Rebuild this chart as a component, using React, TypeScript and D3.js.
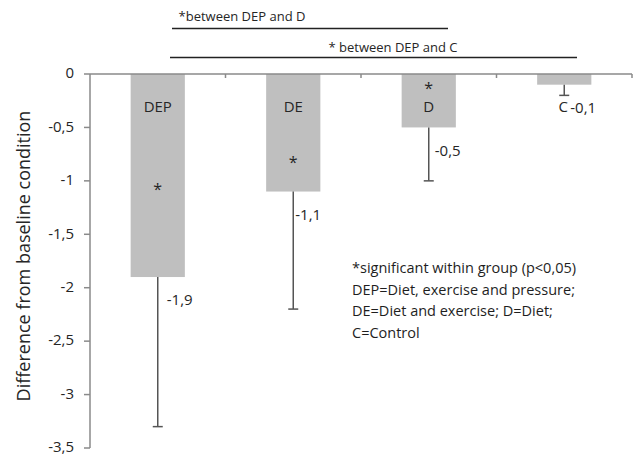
import * as d3 from "d3";

// chart data
const groups = ["DEP", "DE", "D", "C"];
const means = [-1.9, -1.1, -0.5, -0.1];
const errors = [1.4, 1.1, 0.5, 0.1];
const valueLabels = ["-1,9", "-1,1", "-0,5", "-0,1"];
const starLevels = [-1.05, -0.8, -0.1, null];
const yTicks = [0, -0.5, -1, -1.5, -2, -2.5, -3, -3.5];
const legendLines = [
  "*significant within group (p<0,05)",
  "DEP=Diet, exercise and pressure;",
  "DE=Diet and exercise; D=Diet;",
  "C=Control",
];

const W = 635;
const H = 455;
const FONT = "'Open Sans', Lato, sans-serif";
const AXIS = "#8a8a8a";
const ERR = "#555";
const TEXT = "#262626";
const labelDx = [9, 2, 6, 6];

export default function App() {
  const x = d3.scaleBand().domain(groups).range([90, 632]).paddingInner(0.6).paddingOuter(0.3);
  const y = d3.scaleLinear().domain([-3.5, 0]).range([448, 74]);
  const step = x.step();
  const fmt = (v: number) => String(v).replace(".", ",");
  const x0 = x.range()[0];

  return (
    <svg width={W} height={H} style={{ position: "absolute", left: 0, top: 0, background: "#fff" }} fontFamily={FONT}>
      {/* significance brackets */}
      <text x={242} y={16} dy="0.35em" fontSize={13} fill={TEXT} textAnchor="middle">*between DEP and D</text>
      <line x1={172} x2={448} y1={28.5} y2={28.5} stroke="#222" strokeWidth={1.5} />
      <text x={393} y={47} dy="0.35em" fontSize={13} fill={TEXT} textAnchor="middle">* between DEP and C</text>
      <line x1={170} x2={577} y1={57.5} y2={57.5} stroke="#222" strokeWidth={1.5} />

      {/* bars */}
      {groups.map((g, i) => (
        <rect key={g} x={x(g)} y={y(0)} width={x.bandwidth()} height={y(means[i]) - y(0)} fill="#bfbfbf" />
      ))}

      {/* error bars (minus only) */}
      {groups.map((g, i) => {
        const cx = (x(g) ?? 0) + x.bandwidth() / 2;
        const y1 = y(means[i]);
        const y2 = y(means[i] - errors[i]);
        return (
          <g key={g} stroke={ERR} strokeWidth={1.5}>
            <line x1={cx} x2={cx} y1={y1} y2={y2} />
            <line x1={cx - 5} x2={cx + 5} y1={y2} y2={y2} />
          </g>
        );
      })}

      {/* axes */}
      <line x1={x0} x2={x0} y1={y(0)} y2={y(-3.5)} stroke={AXIS} strokeWidth={1.5} />
      <line x1={x0} x2={x.range()[1]} y1={y(0)} y2={y(0)} stroke={AXIS} strokeWidth={1.5} />
      {groups.map((g, i) => (
        <line key={g} x1={x0 + step * (i + 1)} x2={x0 + step * (i + 1)} y1={y(0)} y2={y(0) + 4} stroke={AXIS} strokeWidth={1.5} />
      ))}
      {yTicks.map((t) => (
        <g key={t}>
          <line x1={x0 - 6} x2={x0} y1={y(t)} y2={y(t)} stroke={AXIS} strokeWidth={1.5} />
          <text x={x0 - 16} y={y(t) - 1} dy="0.35em" textAnchor="end" fontSize={15} fill={TEXT}>
            {fmt(t)}
          </text>
        </g>
      ))}
      <text
        transform={`translate(30,${(y(0) + y(-3.5)) / 2 - 5}) rotate(-90)`}
        textAnchor="middle"
        fontSize={18}
        fill={TEXT}
      >
        Difference from baseline condition
      </text>

      {/* group labels, stars and values */}
      {groups.map((g, i) => {
        const cx = (x(g) ?? 0) + x.bandwidth() / 2;
        const s = starLevels[i];
        return (
          <g key={g} fill={TEXT}>
            <text x={g === "C" ? cx - 1 : cx} y={107} dy="0.35em" textAnchor="middle" fontSize={15}>{g}</text>
            {s !== null && (
              <text x={cx} y={y(s) + 9} textAnchor="middle" fontSize={16}>*</text>
            )}
            <text x={cx + labelDx[i]} y={y(means[i]) + 23} dy="0.35em" fontSize={15}>{valueLabels[i]}</text>
          </g>
        );
      })}

      {/* legend note */}
      {legendLines.map((l, i) => (
        <text key={l} x={352} y={268 + i * 21.7} dy="0.35em" fontSize={14.5} fill="#1e1e1e">{l}</text>
      ))}
    </svg>
  );
}
